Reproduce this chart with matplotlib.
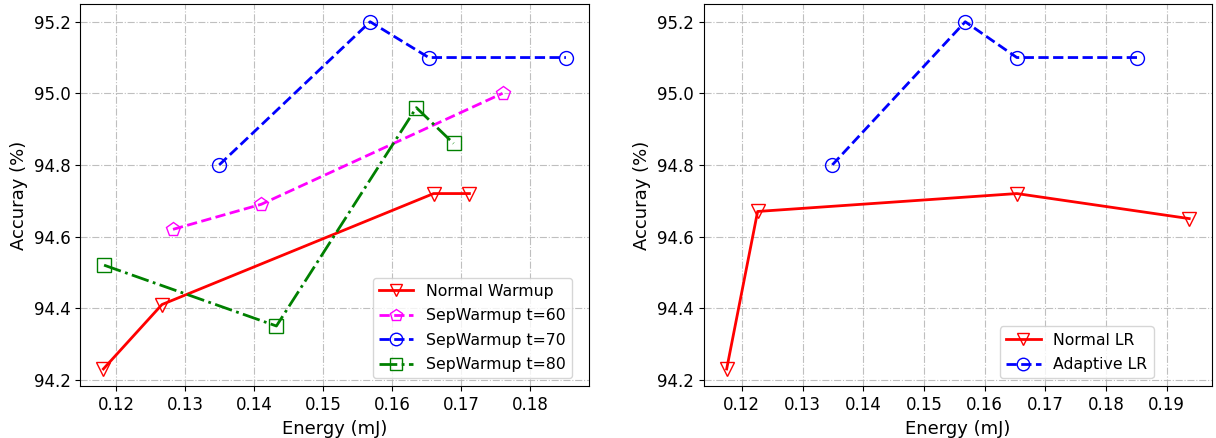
import matplotlib
matplotlib.use('Agg')
import matplotlib.pyplot as plt

# left panel: warmup variants
nw_x = [0.1181, 0.1266, 0.1660, 0.1712]
nw_y = [94.23, 94.41, 94.72, 94.72]
s60_x = [0.1282, 0.1410, 0.1760]
s60_y = [94.62, 94.69, 95.00]
s70_x = [0.1349, 0.1568, 0.1653, 0.1852]
s70_y = [94.80, 95.20, 95.10, 95.10]
s80_x = [0.1182, 0.1432, 0.1635, 0.1689]
s80_y = [94.52, 94.35, 94.96, 94.86]

# right panel: learning rate
nlr_x = [0.1175, 0.1226, 0.1653, 0.1937]
nlr_y = [94.23, 94.67, 94.72, 94.65]
alr_x = [0.1349, 0.1568, 0.1653, 0.1851]
alr_y = [94.80, 95.20, 95.10, 95.10]

fig, (ax1, ax2) = plt.subplots(1, 2, figsize=(12.16, 4.38), dpi=100)
plt.subplots_adjust(left=0.066, right=0.997, bottom=0.118, top=0.99, wspace=0.225)

mk = dict(markerfacecolor='none', markersize=10, linewidth=2)

ax1.plot(nw_x, nw_y, 'r-', marker='v', markeredgecolor='r', label='Normal Warmup', **mk)
ax1.plot(s60_x, s60_y, '--', color='magenta', marker='p', markeredgecolor='magenta', label='SepWarmup t=60', **mk)
ax1.plot(s70_x, s70_y, 'b--', marker='o', markeredgecolor='b', label='SepWarmup t=70', **mk)
ax1.plot(s80_x, s80_y, '-.', color='green', marker='s', markeredgecolor='green', label='SepWarmup t=80', **mk)

ax2.plot(nlr_x, nlr_y, 'r-', marker='v', markeredgecolor='r', label='Normal LR', **mk)
ax2.plot(alr_x, alr_y, 'b--', marker='o', markeredgecolor='b', label='Adaptive LR', **mk)

for ax in (ax1, ax2):
    ax.set_xlabel('Energy (mJ)', fontsize=13)
    ax.set_ylabel('Accuray (%)', fontsize=13)
    ax.tick_params(labelsize=12)
    ax.grid(True, linestyle='-.', color='#b0b0b0', alpha=0.8)

ax1.legend(loc='lower right', bbox_to_anchor=(0.982, 0), fontsize=11.3,
           labelspacing=0.6, handlelength=2.2, markerscale=0.9)
ax2.legend(loc='lower right', bbox_to_anchor=(0.90, 0), fontsize=11.3,
           labelspacing=0.6, handlelength=2.2, markerscale=0.9)

ax1.set_yticks([94.2, 94.4, 94.6, 94.8, 95.0, 95.2])
ax2.set_yticks([94.2, 94.4, 94.6, 94.8, 95.0, 95.2])
ax1.set_xticks([0.12, 0.13, 0.14, 0.15, 0.16, 0.17, 0.18])
ax2.set_xticks([0.12, 0.13, 0.14, 0.15, 0.16, 0.17, 0.18, 0.19])

plt.savefig('out.png', dpi=100)
